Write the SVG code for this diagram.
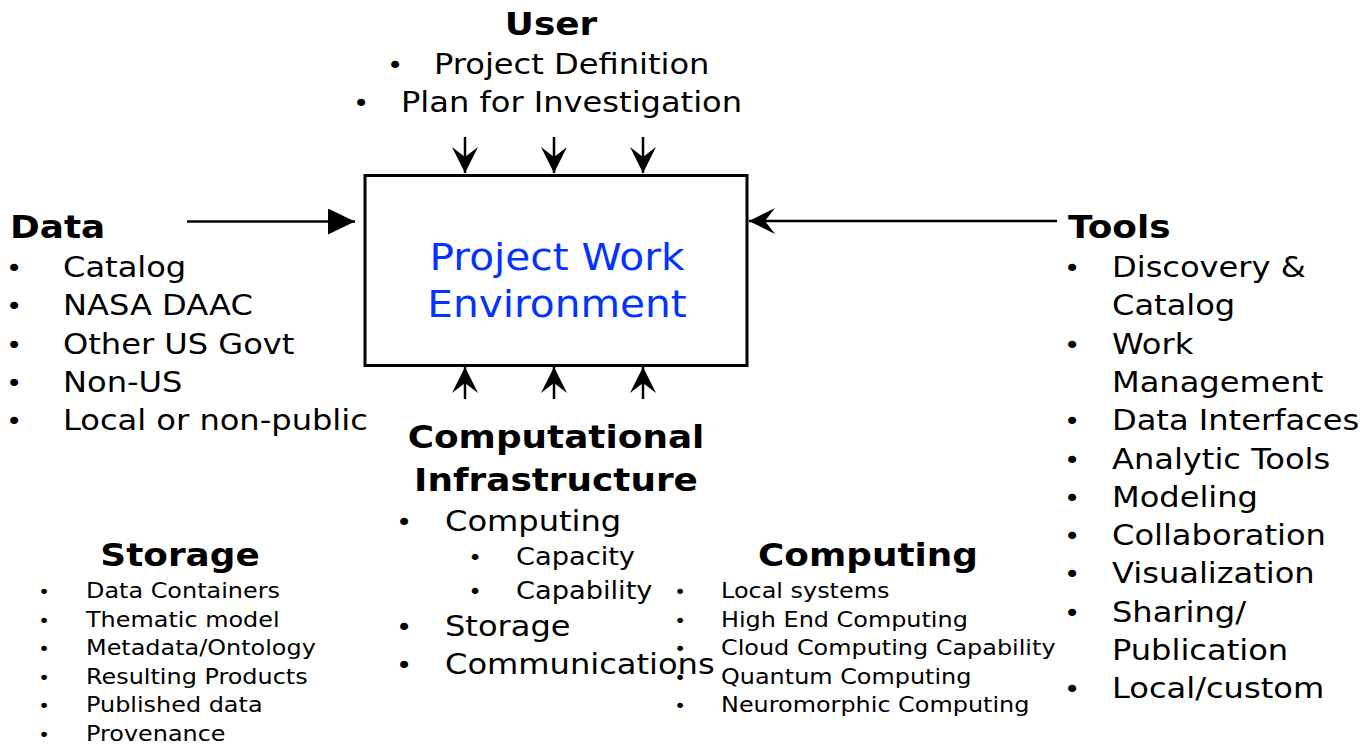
<svg xmlns="http://www.w3.org/2000/svg" width="1364" height="747" viewBox="0 0 1364 747">
<defs>
<style>
text{font-family:"DejaVu Sans","Verdana",sans-serif;fill:#000}
.h{font-size:32px;font-weight:bold}
.b{font-size:29px}
.m{font-size:25px}
.s{font-size:22px}
.bb{font-size:25px;text-anchor:middle}
.bm{font-size:21px;text-anchor:middle}
.bs{font-size:18px;text-anchor:middle}
.blue{font-size:38px;fill:#0433FF}
.c{text-anchor:middle}
.conn{stroke:#000;stroke-width:2.5;fill:none}
</style>
<marker id="stealth" markerUnits="userSpaceOnUse" viewBox="0 0 26 26" markerWidth="26" markerHeight="26" refX="26" refY="13" orient="auto">
<path d="M26,13 L0,0 L10,13 L0,26 Z" fill="#000"/>
</marker>
<marker id="tri" markerUnits="userSpaceOnUse" viewBox="0 0 27 26" markerWidth="27" markerHeight="26" refX="27" refY="13" orient="auto">
<path d="M27,13 L0,0 L0,26 Z" fill="#000"/>
</marker>
</defs>
<rect width="1364" height="747" fill="#fff"/>

<g id="connectors">
<line class="conn" x1="465" y1="137" x2="465" y2="173" marker-end="url(#stealth)"/>
<line class="conn" x1="554" y1="137" x2="554" y2="173" marker-end="url(#stealth)"/>
<line class="conn" x1="643" y1="137" x2="643" y2="173" marker-end="url(#stealth)"/>
<line class="conn" x1="465" y1="399" x2="465" y2="367" marker-end="url(#stealth)"/>
<line class="conn" x1="554" y1="399" x2="554" y2="367" marker-end="url(#stealth)"/>
<line class="conn" x1="643" y1="399" x2="643" y2="367" marker-end="url(#stealth)"/>
<line class="conn" x1="187" y1="221.5" x2="355" y2="221.5" stroke-width="2" marker-end="url(#tri)"/>
<line class="conn" x1="1057" y1="221" x2="749" y2="221" marker-end="url(#stealth)"/>
</g>

<g id="pwe">
<rect x="365" y="175.5" width="382" height="190" fill="#fff" stroke="#000" stroke-width="3"/>
<text class="blue c" transform="translate(557,270) scale(1.07,1)">Project Work</text>
<text class="blue c" transform="translate(557,317) scale(1.07,1)">Environment</text>
</g>

<g id="user">
<text class="h c" transform="translate(551,35) scale(1.12,1)">User</text>
<text class="bb" transform="translate(395,74) scale(1.1,1)">•</text>
<text class="b" transform="translate(434,74) scale(1.107,1)">Project Definition</text>
<text class="bb" transform="translate(361,112) scale(1.1,1)">•</text>
<text class="b" transform="translate(401,112) scale(1.107,1)">Plan for Investigation</text>
</g>

<g id="data">
<text class="h" transform="translate(10,238) scale(1.12,1)">Data</text>
<text class="bb" transform="translate(14,277) scale(1.1,1)">•</text>
<text class="b" transform="translate(63,277) scale(1.107,1)">Catalog</text>
<text class="bb" transform="translate(14,315.3) scale(1.1,1)">•</text>
<text class="b" transform="translate(63,315.3) scale(1.107,1)">NASA DAAC</text>
<text class="bb" transform="translate(14,353.6) scale(1.1,1)">•</text>
<text class="b" transform="translate(63,353.6) scale(1.107,1)">Other US Govt</text>
<text class="bb" transform="translate(14,391.9) scale(1.1,1)">•</text>
<text class="b" transform="translate(63,391.9) scale(1.107,1)">Non-US</text>
<text class="bb" transform="translate(14,430.2) scale(1.1,1)">•</text>
<text class="b" transform="translate(63,430.2) scale(1.107,1)">Local or non-public</text>
</g>

<g id="tools">
<text class="h" transform="translate(1068,238) scale(1.12,1)">Tools</text>
<text class="bb" transform="translate(1072,277) scale(1.1,1)">•</text>
<text class="b" transform="translate(1112,277) scale(1.107,1)">Discovery &amp;</text>
<text class="b" transform="translate(1112,315.3) scale(1.107,1)">Catalog</text>
<text class="bb" transform="translate(1072,353.6) scale(1.1,1)">•</text>
<text class="b" transform="translate(1112,353.6) scale(1.107,1)">Work</text>
<text class="b" transform="translate(1112,391.9) scale(1.107,1)">Management</text>
<text class="bb" transform="translate(1072,430.2) scale(1.1,1)">•</text>
<text class="b" transform="translate(1112,430.2) scale(1.107,1)">Data Interfaces</text>
<text class="bb" transform="translate(1072,468.5) scale(1.1,1)">•</text>
<text class="b" transform="translate(1112,468.5) scale(1.107,1)">Analytic Tools</text>
<text class="bb" transform="translate(1072,506.8) scale(1.1,1)">•</text>
<text class="b" transform="translate(1112,506.8) scale(1.107,1)">Modeling</text>
<text class="bb" transform="translate(1072,545.1) scale(1.1,1)">•</text>
<text class="b" transform="translate(1112,545.1) scale(1.107,1)">Collaboration</text>
<text class="bb" transform="translate(1072,583.4) scale(1.1,1)">•</text>
<text class="b" transform="translate(1112,583.4) scale(1.107,1)">Visualization</text>
<text class="bb" transform="translate(1072,621.7) scale(1.1,1)">•</text>
<text class="b" transform="translate(1112,621.7) scale(1.107,1)">Sharing/</text>
<text class="b" transform="translate(1112,660) scale(1.107,1)">Publication</text>
<text class="bb" transform="translate(1072,698.3) scale(1.1,1)">•</text>
<text class="b" transform="translate(1112,698.3) scale(1.107,1)">Local/custom</text>
</g>

<g id="infrastructure">
<text class="h c" transform="translate(556,448) scale(1.12,1)">Computational</text>
<text class="h c" transform="translate(556,491) scale(1.12,1)">Infrastructure</text>
<text class="bb" transform="translate(404,531) scale(1.1,1)">•</text>
<text class="b" transform="translate(445,531) scale(1.107,1)">Computing</text>
<text class="bm" transform="translate(475,565) scale(1.1,1)">•</text>
<text class="m" transform="translate(516,565) scale(1.09,1)">Capacity</text>
<text class="bm" transform="translate(475,599) scale(1.1,1)">•</text>
<text class="m" transform="translate(516,599) scale(1.09,1)">Capability</text>
<text class="bb" transform="translate(404,636) scale(1.1,1)">•</text>
<text class="b" transform="translate(445,636) scale(1.107,1)">Storage</text>
<text class="bb" transform="translate(404,674) scale(1.1,1)">•</text>
<text class="b" transform="translate(445,674) scale(1.107,1)">Communications</text>
</g>

<g id="storage">
<text class="h c" transform="translate(180,566) scale(1.12,1)">Storage</text>
<text class="bs" transform="translate(44,598) scale(1.1,1)">•</text>
<text class="s" transform="translate(86,598) scale(1.087,1)">Data Containers</text>
<text class="bs" transform="translate(44,626.6) scale(1.1,1)">•</text>
<text class="s" transform="translate(86,626.6) scale(1.087,1)">Thematic model</text>
<text class="bs" transform="translate(44,655.2) scale(1.1,1)">•</text>
<text class="s" transform="translate(86,655.2) scale(1.087,1)">Metadata/Ontology</text>
<text class="bs" transform="translate(44,683.8) scale(1.1,1)">•</text>
<text class="s" transform="translate(86,683.8) scale(1.087,1)">Resulting Products</text>
<text class="bs" transform="translate(44,712.4) scale(1.1,1)">•</text>
<text class="s" transform="translate(86,712.4) scale(1.087,1)">Published data</text>
<text class="bs" transform="translate(44,741) scale(1.1,1)">•</text>
<text class="s" transform="translate(86,741) scale(1.087,1)">Provenance</text>
</g>

<g id="computing">
<text class="h c" transform="translate(868,566) scale(1.12,1)">Computing</text>
<text class="bs" transform="translate(680,598) scale(1.1,1)">•</text>
<text class="s" transform="translate(721,598) scale(1.087,1)">Local systems</text>
<text class="bs" transform="translate(680,626.6) scale(1.1,1)">•</text>
<text class="s" transform="translate(721,626.6) scale(1.087,1)">High End Computing</text>
<text class="bs" transform="translate(680,655.2) scale(1.1,1)">•</text>
<text class="s" transform="translate(721,655.2) scale(1.087,1)">Cloud Computing Capability</text>
<text class="bs" transform="translate(680,683.8) scale(1.1,1)">•</text>
<text class="s" transform="translate(721,683.8) scale(1.087,1)">Quantum Computing</text>
<text class="bs" transform="translate(680,712.4) scale(1.1,1)">•</text>
<text class="s" transform="translate(721,712.4) scale(1.087,1)">Neuromorphic Computing</text>
</g>
</svg>
